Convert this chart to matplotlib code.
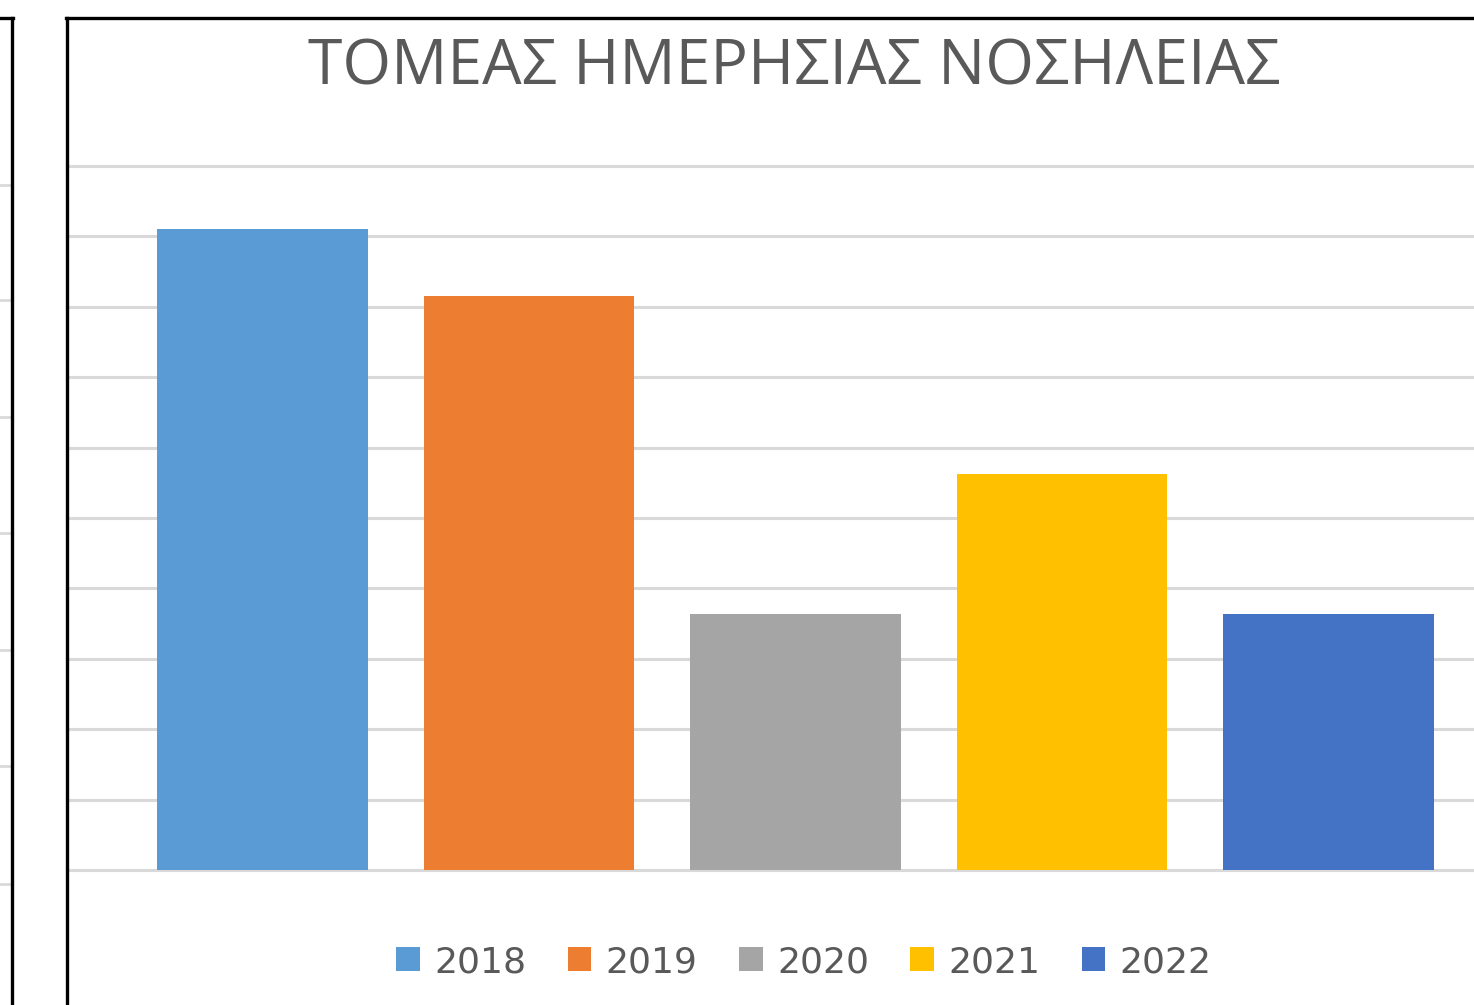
import numpy as np
import matplotlib.pyplot as plt
from matplotlib.lines import Line2D

# values (one gridline = 1 unit)
years = ["2018", "2019", "2020", "2021", "2022"]
values = [9.1, 8.15, 3.64, 5.63, 3.64]
colors = ["#5B9BD5", "#ED7D31", "#A5A5A5", "#FFC000", "#4472C4"]
title = "ΤΟΜΕΑΣ ΗΜΕΡΗΣΙΑΣ ΝΟΣΗΛΕΙΑΣ"

W, H = 1474, 1005
fig = plt.figure(figsize=(W / 100, H / 100), dpi=100)
fig.patch.set_facecolor("white")

# plot area (pixel coords converted to figure fractions)
left, right, top, bottom = 68, 1474, 166, 870
ax = fig.add_axes([left / W, 1 - bottom / H, (right - left) / W, (bottom - top) / H])

x = np.arange(len(years))
bars = ax.bar(x, values, width=0.79, color=colors, zorder=3)

ax.set_ylim(0, 10)
ax.set_xlim(-0.73, 4.547)
ax.set_yticks(np.arange(0, 11, 1))
ax.yaxis.grid(True, color="#D9D9D9", linewidth=2.2, zorder=0)
for gl in ax.get_ygridlines():
    gl.set_clip_on(False)
ax.set_xticks([])
ax.tick_params(axis="y", length=0, labelleft=False)
for s in ax.spines.values():
    s.set_visible(False)

fig.text(794 / W, 1 - 68 / H, title, ha="center", va="center",
         fontsize=45, color="#595959", family="Open Sans")

ax.legend(bars, years, loc="center", bbox_to_anchor=(804 / W, 1 - 962 / H),
          bbox_transform=fig.transFigure, ncol=5, frameon=False,
          prop={"family": "DejaVu Sans", "size": 26}, labelcolor="#595959",
          handlelength=0.65, handleheight=0.65, handletextpad=0.4, columnspacing=1.15)

# chart border (only top and left edge are inside the crop)
def fig_line(xs, ys, **kw):
    fig.add_artist(Line2D([v / W for v in xs], [1 - v / H for v in ys], **kw))

fig_line([67, 67], [18, H], color="black", linewidth=2.4)
fig_line([66, W], [18, 18], color="black", linewidth=2.4)

# piece of the neighbouring chart at the left edge
for gy in [185, 300, 417, 533, 650, 766, 884]:
    fig_line([0, 11], [gy, gy], color="#D9D9D9", linewidth=2)
fig_line([12, 12], [18, H], color="black", linewidth=2.4)
fig_line([0, 13], [18, 18], color="black", linewidth=2.4)

fig.savefig("out.png", dpi=100, facecolor="white")
